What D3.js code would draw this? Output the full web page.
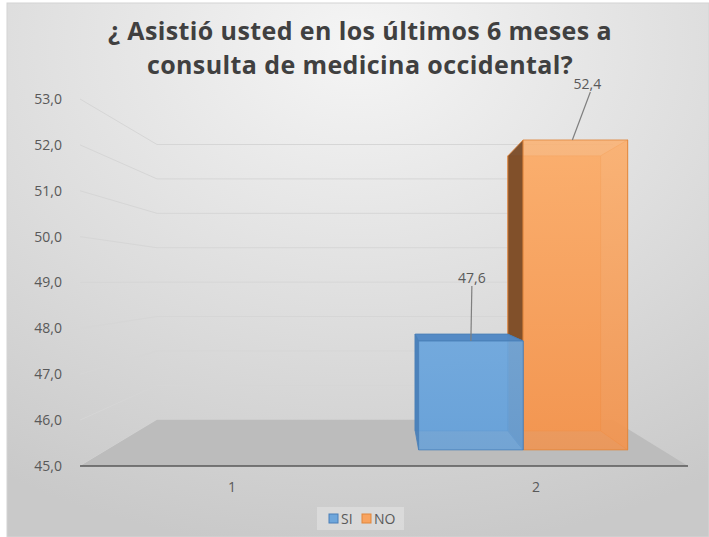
<!DOCTYPE html>
<html>
<head>
<meta charset="utf-8">
<script src="https://cdn.jsdelivr.net/npm/d3@7"></script>
<style>
  html, body { margin: 0; padding: 0; background: #ffffff; }
  svg { display: block; }
</style>
</head>
<body>
<svg id="chart" width="709" height="537"></svg>
<script>
// Chart data
const categories = ["1", "2"];
const seriesNames = ["SI", "NO"];
const siValues = [null, 47.6];
const noValues = [null, 52.4];
const yTicks = [45, 46, 47, 48, 49, 50, 51, 52, 53];
const titleLines = ["¿ Asistió usted en los últimos 6 meses a", "consulta de medicina occidental?"];

const seriesColors = {
  SI: { front: "#6ea6db", top: "#5288c3", side: "#4a7fb8", stroke: "#4a7fb8" },
  NO: { front: "#f8a35f", top: "#e28a45", side: "#7a4b27", stroke: "#e0863c" }
};

const svg = d3.select("#chart");
const W = 709, H = 537;
const font = "'Open Sans', sans-serif";

// Perspective set-up: front plane coordinates are shrunk toward a vanishing point
const vx = 388, vy = 281;
const depth = { front: 1, barFront: 0.913, barBack: 0.81, wall: 0.75 };
const proj = (x, y, s) => [vx + (x - vx) * s, vy + (y - vy) * s];

// Scales for the front plane
const y = d3.scaleLinear().domain([45, 53]).range([466, 99]);
const x = d3.scaleBand().domain(categories).range([80, 688]);
const xs = d3.scaleBand().domain(seriesNames).range([0, x.bandwidth()])
  .paddingInner(0).paddingOuter(0.328);

// Background
const defs = svg.append("defs");
const bg = defs.append("radialGradient").attr("id", "bg")
  .attr("cx", "50%").attr("cy", "8%").attr("r", "95%")
  .attr("gradientUnits", "objectBoundingBox");
bg.append("stop").attr("offset", "0%").attr("stop-color", "#f5f5f5");
bg.append("stop").attr("offset", "55%").attr("stop-color", "#dddddd");
bg.append("stop").attr("offset", "100%").attr("stop-color", "#c9c9c9");

svg.append("rect").attr("x", 7).attr("y", 3).attr("width", W - 7).attr("height", H - 3)
  .attr("fill", "url(#bg)").attr("stroke", "#d4d4d4").attr("stroke-width", 1);

// Gradients for bar fronts
const gradNO = defs.append("linearGradient").attr("id", "gNO")
  .attr("x1", 0).attr("y1", 0).attr("x2", 0).attr("y2", 1);
gradNO.append("stop").attr("offset", "0%").attr("stop-color", "#fbb06f");
gradNO.append("stop").attr("offset", "100%").attr("stop-color", "#f2924c");
const gradSI = defs.append("linearGradient").attr("id", "gSI")
  .attr("x1", 0).attr("y1", 0).attr("x2", 0).attr("y2", 1);
gradSI.append("stop").attr("offset", "0%").attr("stop-color", "#72a9dd");
gradSI.append("stop").attr("offset", "100%").attr("stop-color", "#66a0d8");

const line = d3.line();

// Back wall and side wall gridlines
const xL = x.range()[0], xR = x.range()[1];
const grid = svg.append("g");
yTicks.forEach(t => {
  const pts = [[xL, y(t)], proj(xL, y(t), depth.wall), proj(xR, y(t), depth.wall)];
  grid.append("path").attr("d", line(pts))
    .attr("fill", "none").attr("stroke", "#d6d6d6").attr("stroke-width", 1);
});

// Floor
const floorPts = [[xL, y(45)], [xR, y(45)], proj(xR, y(45), depth.wall), proj(xL, y(45), depth.wall)];
svg.append("path").attr("d", line(floorPts) + "Z").attr("fill", "#bcbcbc");

// Axis line along the front edge of the floor
svg.append("line").attr("x1", xL).attr("x2", xR).attr("y1", y(45)).attr("y2", y(45))
  .attr("stroke", "#595959").attr("stroke-width", 1.5);

// Y tick labels
svg.append("g").selectAll("text").data(yTicks).join("text")
  .attr("x", 62).attr("y", d => y(d)).attr("dy", "0.35em")
  .attr("text-anchor", "end")
  .attr("font-family", font).attr("font-size", 14)
  .attr("fill", "#595959")
  .text(d => d3.format(".1f")(d).replace(".", ","));

// X category labels
svg.append("g").selectAll("text").data(categories).join("text")
  .attr("x", d => x(d) + x.bandwidth() / 2).attr("y", 487).attr("dy", "0.35em")
  .attr("text-anchor", "middle")
  .attr("font-family", font).attr("font-size", 14)
  .attr("fill", "#595959").text(d => d);

// Bars as semi-transparent 3D boxes
const bars = [];
categories.forEach((c, i) => {
  [["SI", siValues[i]], ["NO", noValues[i]]].forEach(([s, v]) => {
    if (v != null) bars.push({ cat: c, series: s, value: v });
  });
});
bars.forEach(b => {
  b.x0 = x(b.cat) + xs(b.series);
  b.x1 = b.x0 + xs.bandwidth();
});
// paint boxes farthest from the vanishing point first
const paintOrder = bars.slice().sort((a, b) =>
  Math.abs((b.x0 + b.x1) / 2 - vx) - Math.abs((a.x0 + a.x1) / 2 - vx));

const barG = svg.append("g");
paintOrder.forEach(b => {
  const col = seriesColors[b.series];
  const x0 = b.x0, x1 = b.x1;
  const yT = y(b.value), yB = y(45);
  const f = depth.barFront, k = depth.barBack;
  const F = { tl: proj(x0, yT, f), tr: proj(x1, yT, f), br: proj(x1, yB, f), bl: proj(x0, yB, f) };
  const K = { tl: proj(x0, yT, k), tr: proj(x1, yT, k), br: proj(x1, yB, k), bl: proj(x0, yB, k) };
  const g = barG.append("g");
  const face = (pts, fill, op) => g.append("path").attr("d", line(pts) + "Z")
    .attr("fill", fill).attr("fill-opacity", op)
    .attr("stroke", col.stroke).attr("stroke-width", 1).attr("stroke-opacity", 0.8);
  // back and right faces (seen through the front)
  face([K.tl, K.tr, K.br, K.bl], col.front, 0.9);
  face([F.tr, K.tr, K.br, F.br], col.front, 0.5);
  // left side face
  face([K.tl, F.tl, F.bl, K.bl], col.side, 0.95);
  // top face when it is below eye level
  if (F.tl[1] > vy) face([K.tl, K.tr, F.tr, F.tl], col.top, 0.95);
  // front face
  face([F.tl, F.tr, F.br, F.bl], b.series === "NO" ? "url(#gNO)" : "url(#gSI)", 0.85);
  b.anchor = [(F.tl[0] + F.tr[0]) / 2, F.tl[1]];
});

// Data labels with leader lines
const labelOffset = { SI: [1, -63], NO: [12, -56] };
bars.forEach(b => {
  const [ax, ay] = b.anchor;
  const off = labelOffset[b.series];
  const lx = ax + off[0], ly = ay + off[1];
  svg.append("line").attr("x1", ax + (b.series === "NO" ? -3 : 0)).attr("y1", ay)
    .attr("x2", lx + (b.series === "NO" ? 3 : 0)).attr("y2", ly + 8)
    .attr("stroke", "#7f7f7f").attr("stroke-width", 1.2);
  svg.append("text").attr("x", lx).attr("y", ly).attr("dy", "0.35em")
    .attr("text-anchor", "middle")
    .attr("font-family", font).attr("font-size", 14)
    .attr("fill", "#595959").text(d3.format(".1f")(b.value).replace(".", ","));
});

// Title, two centred lines
svg.append("g").selectAll("text").data(titleLines).join("text")
  .attr("x", 360).attr("y", (d, i) => 40 + i * 34)
  .attr("text-anchor", "middle")
  .attr("font-family", font).attr("font-weight", 700)
  .attr("font-size", 25).attr("letter-spacing", 0.4).attr("fill", "#404040")
  .text(d => d);

// Legend
const legend = svg.append("g");
legend.append("rect").attr("x", 317).attr("y", 507).attr("width", 87).attr("height", 23)
  .attr("fill", "#e2e2e2").attr("fill-opacity", 0.6);
const legendX = { SI: 329, NO: 362 };
seriesNames.forEach(s => {
  legend.append("rect").attr("x", legendX[s]).attr("y", 514).attr("width", 9).attr("height", 9)
    .attr("fill", seriesColors[s].front).attr("stroke", s === "NO" ? "#e0863c" : "#4a7fb8");
  legend.append("text").attr("x", legendX[s] + 12).attr("y", 519).attr("dy", "0.35em")
    .attr("font-family", font).attr("font-size", 14)
    .attr("fill", "#595959").text(s);
});
</script>
</body>
</html>
